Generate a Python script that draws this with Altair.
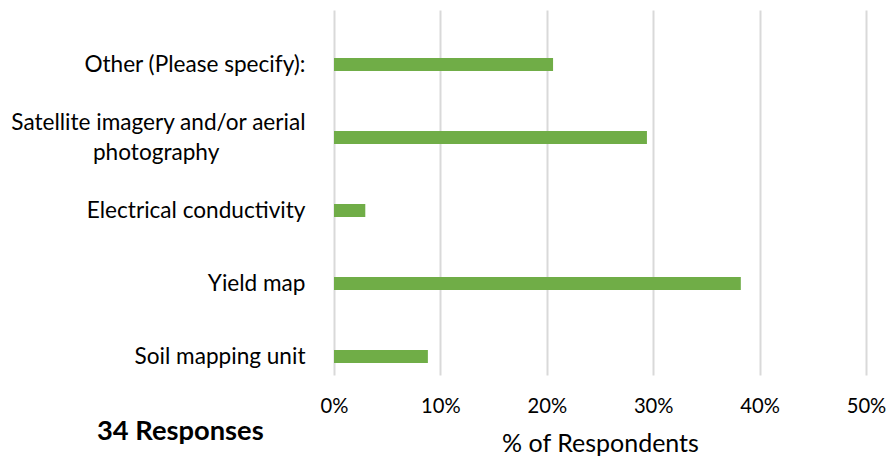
import altair as alt
import pandas as pd

categories = [
    "Other (Please specify):",
    "Satellite imagery and/or aerial photography",
    "Electrical conductivity",
    "Yield map",
    "Soil mapping unit",
]
values = [7 / 34, 10 / 34, 1 / 34, 13 / 34, 3 / 34]
x_ticks = [0, 0.1, 0.2, 0.3, 0.4, 0.5]

df = pd.DataFrame({"category": categories, "value": values})

FONT = "Lato"
WRAPPED = "Satellite imagery and/or aerial photography"
pad = "\u00a0" * 15 + "\u2060"
label_expr = (
    "datum.label == '" + WRAPPED + "' ? "
    "['Satellite imagery and/or aerial', 'photography" + pad + "'] : datum.label"
)

chart = (
    alt.Chart(df)
    .mark_bar(color="#70AD47", size=13, yOffset=18)
    .encode(
        x=alt.X(
            "value:Q",
            scale=alt.Scale(domain=[0, 0.5], nice=False),
            axis=alt.Axis(
                values=x_ticks,
                format=".0%",
                title="% of Respondents",
                titleFont=FONT,
                titleFontSize=25,
                titleFontWeight="normal",
                titleColor="#000000",
                titlePadding=15,
                labelFont=FONT,
                labelFontSize=20.2,
                labelColor="#000000",
                labelPadding=21,
                labelFlush=False,
                domain=False,
                ticks=False,
                grid=True,
                gridColor="#D9D9D9",
                gridWidth=2,
            ),
        ),
        y=alt.Y(
            "category:N",
            sort=categories,
            scale=alt.Scale(paddingInner=0, paddingOuter=0),
            axis=alt.Axis(
                title=None,
                labelFont=FONT,
                labelFontSize=22.6,
                labelColor="#000000",
                labelPadding=29,
                labelOffset={
                    "condition": {"test": "datum.value == '" + WRAPPED + "'", "value": 3},
                    "value": 18,
                },
                labelExpr=label_expr,
                labelLineHeight=30,
                labelLimit=400,
                domain=False,
                ticks=False,
                grid=False,
            ),
        ),
    )
    .properties(
        width=878,
        height=365,
        autosize=alt.AutoSizeParams(type="fit-x", contains="padding"),
        padding={"left": 1, "top": 2, "right": 0, "bottom": 0},
        title=alt.TitleParams(
            "34 Responses",
            orient="bottom",
            anchor="start",
            frame="group",
            dx=-237,
            dy=-42,
            font=FONT,
            fontSize=27.3,
            fontWeight="bold",
            color="#000000",
        ),
    )
    .configure_view(stroke=None)
)

chart.save("out.html", embed_options={"renderer": "svg", "actions": False})
